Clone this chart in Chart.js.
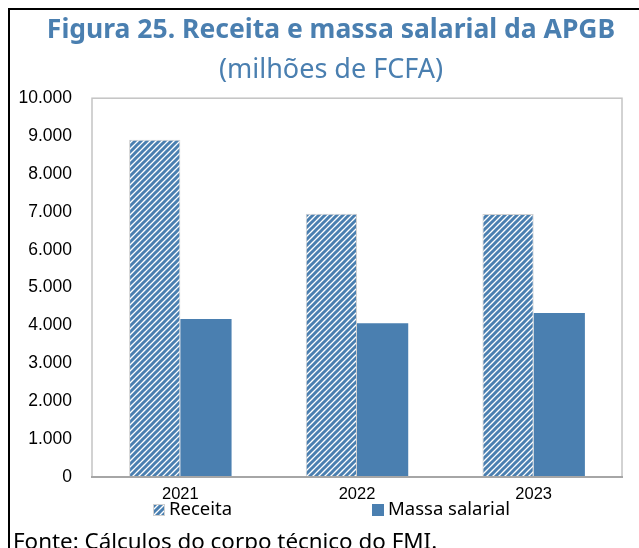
<!DOCTYPE html>
<html>
<head>
<meta charset="utf-8">
<script src="https://cdn.jsdelivr.net/npm/chart.js@4"></script>
<style>
  html, body { margin: 0; padding: 0; background: #fff; }
  #wrap { width: 639px; height: 548px; }
</style>
</head>
<body>
<div id="wrap"><canvas id="chart" width="639" height="548"></canvas></div>
<script>
const years = ["2021", "2022", "2023"];
const receita = [8900, 6950, 6940];
const massaSalarial = [4170, 4060, 4330];
const seriesNames = ["Receita", "Massa salarial"];
const yTicksMax = 10000;
const yTicksStep = 1000;

const blue = "#4a7fb0";

// diagonal hatch used for Receita
function makeStripes() {
  const c = document.createElement("canvas");
  c.width = 6; c.height = 6;
  const g = c.getContext("2d");
  g.fillStyle = "#fff";
  g.fillRect(0, 0, 6, 6);
  g.strokeStyle = blue;
  g.lineWidth = 3;
  g.beginPath();
  g.moveTo(-1, 7); g.lineTo(7, -1);
  g.moveTo(-4, 4); g.lineTo(4, -4);
  g.moveTo(2, 10); g.lineTo(10, 2);
  g.stroke();
  return g.createPattern(c, "repeat");
}
const stripes = makeStripes();

const fmt = v => String(v).replace(/\B(?=(\d{3})+(?!\d))/g, ".");

// the heading is centred a bit right of the canvas middle
const shiftTitles = {
  id: "shiftTitles",
  afterLayout(chart) {
    chart.boxes.forEach(b => {
      if (!b.axis && b.options && "text" in b.options) {
        b.left += 15;
        b.right += 15;
      }
    });
  }
};

const frame = {
  id: "frame",
  afterDraw(chart) {
    const ctx = chart.ctx;
    const a = chart.chartArea;
    ctx.save();
    // plot area box
    ctx.strokeStyle = "#c4c4c4";
    ctx.lineWidth = 1.5;
    ctx.strokeRect(a.left, a.top, a.right - a.left, a.bottom - a.top);
    ctx.strokeStyle = "#a6a6a6";
    ctx.lineWidth = 2;
    ctx.beginPath();
    ctx.moveTo(a.left - 1, a.bottom);
    ctx.lineTo(a.right + 1, a.bottom);
    ctx.stroke();

    // outer black frame (top and left)
    ctx.strokeStyle = "#000";
    ctx.lineWidth = 2;
    ctx.beginPath();
    ctx.moveTo(639, 9);
    ctx.lineTo(9, 9);
    ctx.lineTo(9, 548);
    ctx.stroke();

    // legend
    const ds = chart.data.datasets;
    const xs = [153, 372];
    const ly = 510;
    ctx.font = "18.5px 'Noto Sans'";
    ctx.textBaseline = "middle";
    ctx.textAlign = "left";
    ds.forEach((d, i) => {
      ctx.fillStyle = d.backgroundColor;
      ctx.fillRect(xs[i], ly - 6, 12, 12);
      if (d.borderWidth) {
        ctx.strokeStyle = "#d0d0d0";
        ctx.lineWidth = 1;
        ctx.strokeRect(xs[i] + 0.5, ly - 5.5, 11, 11);
      }
      ctx.fillStyle = "#000";
      ctx.fillText(d.label, xs[i] + 16, ly);
    });

    // source note
    ctx.font = "22.4px 'Noto Sans'";
    ctx.fillText("Fonte: Cálculos do corpo técnico do FMI.", 13, 543);
    ctx.restore();
  }
};

new Chart(document.getElementById("chart"), {
  type: "bar",
  data: {
    labels: years,
    datasets: [
      {
        label: seriesNames[0],
        data: receita,
        backgroundColor: stripes,
        borderColor: "#d0d0d0",
        borderWidth: 1,
        categoryPercentage: 0.58,
        barPercentage: 1
      },
      {
        label: seriesNames[1],
        data: massaSalarial,
        backgroundColor: blue,
        borderWidth: 0,
        categoryPercentage: 0.58,
        barPercentage: 1
      }
    ]
  },
  options: {
    responsive: false,
    animation: false,
    layout: { padding: { left: 10, right: 17, top: 0, bottom: 0 } },
    plugins: {
      legend: { display: false },
      tooltip: { enabled: false },
      title: {
        display: true,
        text: "Figura 25. Receita e massa salarial da APGB",
        color: blue,
        font: { family: "'Noto Sans'", size: 26.5, weight: "bold", lineHeight: 1.2 },
        padding: { top: 15, bottom: 7 }
      },
      subtitle: {
        display: true,
        text: "(milhões de FCFA)",
        color: blue,
        font: { family: "'Noto Sans'", size: 27, lineHeight: 1.2 },
        padding: { top: 0, bottom: 12 }
      }
    },
    scales: {
      x: {
        grid: { display: false, drawTicks: false },
        border: { display: false },
        ticks: {
          color: "#000",
          padding: 8,
          font: { family: "'Liberation Sans'", size: 16.5 }
        },
        afterFit(scale) { scale.height = 71; }
      },
      y: {
        min: 0,
        max: yTicksMax,
        grid: { display: false, drawTicks: false },
        border: { display: false },
        ticks: {
          stepSize: yTicksStep,
          color: "#000",
          padding: 20,
          font: { family: "'Liberation Sans'", size: 17.5 },
          callback: v => fmt(v)
        },
        afterFit(scale) { scale.width = 82; }
      }
    }
  },
  plugins: [shiftTitles, frame]
});
</script>
</body>
</html>
